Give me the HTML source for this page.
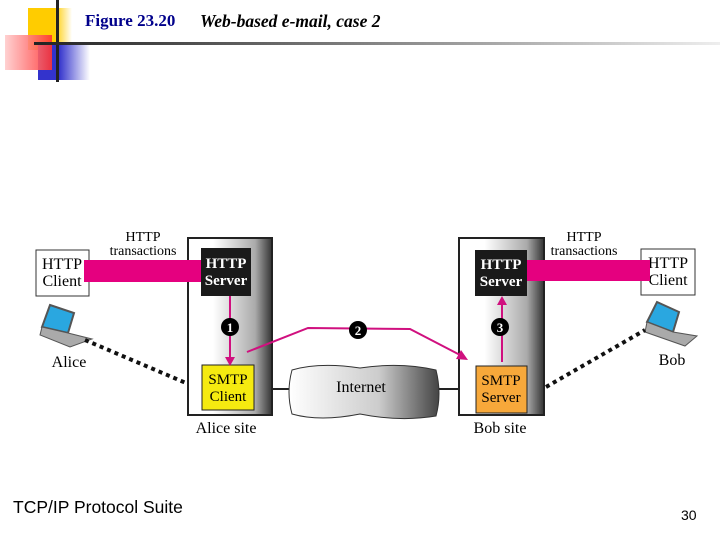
<!DOCTYPE html>
<html><head><meta charset="utf-8"><style>
body{margin:0;width:720px;height:540px;background:#fff;overflow:hidden;position:relative;font-family:"Liberation Serif",serif}
.a{position:absolute}
</style></head><body>
<div class="a" style="left:28px;top:8px;width:44px;height:42px;background:linear-gradient(90deg,#fc0 60%,#fff)"></div>
<div class="a" style="left:38px;top:45px;width:52px;height:35px;background:linear-gradient(90deg,#33c 40%,#fff)"></div>
<div class="a" style="left:5px;top:35px;width:47px;height:35px;background:linear-gradient(90deg,#fcc,#f33);opacity:.9"></div>
<div class="a" style="left:56px;top:0;width:3px;height:82px;background:#222"></div>
<div class="a" style="left:34px;top:42px;width:686px;height:3px;background:linear-gradient(90deg,#222,#999 60%,#eee)"></div>
<div class="a" style="left:85px;top:11px;font-size:17px;font-weight:bold;color:#00008b">Figure 23.20</div>
<div class="a" style="left:200px;top:11px;font-size:17.5px;font-weight:bold;font-style:italic">Web-based e-mail, case 2</div>
<div class="a" style="left:13px;top:497px;font-family:'Liberation Sans',sans-serif;font-size:17.5px">TCP/IP Protocol Suite</div>
<div class="a" style="left:681px;top:507px;font-family:'Liberation Sans',sans-serif;font-size:14px">30</div>
<svg class="a" style="left:0;top:0" width="720" height="540" font-family="Liberation Serif">
<defs>
<linearGradient id="g" x1="0" x2="1"><stop offset="0.3" stop-color="#fff"/><stop offset="0.8" stop-color="#aaa"/><stop offset="1" stop-color="#333"/></linearGradient>
<linearGradient id="c" x1="0" x2="1"><stop offset="0" stop-color="#fff"/><stop offset="0.6" stop-color="#ccc"/><stop offset="1" stop-color="#444"/></linearGradient>
</defs>
<rect x="188" y="238" width="84" height="177" fill="url(#g)" stroke="#222" stroke-width="2"/>
<rect x="201" y="248" width="50" height="48" fill="#1a1a1a"/>
<text x="226" y="268" font-size="15" font-weight="bold" fill="#fff" text-anchor="middle">HTTP</text>
<text x="226" y="285" font-size="15" font-weight="bold" fill="#fff" text-anchor="middle">Server</text>
<rect x="202" y="365" width="52" height="45" fill="#f5ea10" stroke="#222"/>
<text x="228" y="384" font-size="15" text-anchor="middle">SMTP</text>
<text x="228" y="401" font-size="15" text-anchor="middle">Client</text>
<rect x="36" y="250" width="53" height="46" fill="#fff" stroke="#333"/>
<text x="62" y="269" font-size="16" text-anchor="middle">HTTP</text>
<text x="62" y="286" font-size="16" text-anchor="middle">Client</text>
<rect x="84" y="260" width="117" height="22" fill="#e5007f"/>
<text x="143" y="241" font-size="14" text-anchor="middle">HTTP</text>
<text x="143" y="255" font-size="14" text-anchor="middle">transactions</text>
<text x="226" y="433" font-size="16" text-anchor="middle">Alice site</text>
<line x1="230" y1="296" x2="230" y2="358" stroke="#d0107f" stroke-width="2"/>
<polygon points="225,357 235,357 230,366" fill="#d0107f"/>
<circle cx="230" cy="327" r="9" fill="#000"/><text x="230" y="332" font-size="13" font-weight="bold" fill="#fff" text-anchor="middle">1</text>
<g transform="translate(40,305)"><polygon points="10,0 34,8 28,28 2,22" fill="#2aa7e0" stroke="#555" stroke-width="2"/><polygon points="2,22 28,28 52,34 30,42 0,30" fill="#aaa" stroke="#555"/></g>
<text x="69" y="367" font-size="16" text-anchor="middle">Alice</text>
<line x1="85" y1="340" x2="186" y2="383" stroke="#111" stroke-width="4" stroke-dasharray="4,4"/>
<line x1="272" y1="389" x2="460" y2="389" stroke="#222" stroke-width="2"/>
<path d="M292,370 Q320,362 360,368 Q400,362 436,370 Q442,394 436,416 Q400,422 360,414 Q320,422 292,414 Q286,392 292,370Z" fill="url(#c)" stroke="#333"/>
<text x="361" y="392" font-size="16" text-anchor="middle">Internet</text>
<rect x="459" y="238" width="85" height="177" fill="url(#g)" stroke="#222" stroke-width="2"/>
<polyline points="247,352 308,328 410,329 462,356" fill="none" stroke="#d0107f" stroke-width="2"/>
<polygon points="468,360 456,359 461,350" fill="#d0107f"/>
<circle cx="358" cy="330" r="9" fill="#000"/><text x="358" y="335" font-size="13" font-weight="bold" fill="#fff" text-anchor="middle">2</text>
<rect x="475" y="250" width="52" height="46" fill="#1a1a1a"/>
<text x="501" y="269" font-size="15" font-weight="bold" fill="#fff" text-anchor="middle">HTTP</text>
<text x="501" y="286" font-size="15" font-weight="bold" fill="#fff" text-anchor="middle">Server</text>
<rect x="476" y="366" width="51" height="47" fill="#f7a83a" stroke="#222"/>
<text x="501" y="385" font-size="15" text-anchor="middle">SMTP</text>
<text x="501" y="402" font-size="15" text-anchor="middle">Server</text>
<rect x="641" y="249" width="54" height="46" fill="#fff" stroke="#333"/>
<text x="668" y="268" font-size="16" text-anchor="middle">HTTP</text>
<text x="668" y="285" font-size="16" text-anchor="middle">Client</text>
<rect x="527" y="260" width="123" height="21" fill="#e5007f"/>
<text x="584" y="241" font-size="14" text-anchor="middle">HTTP</text>
<text x="584" y="255" font-size="14" text-anchor="middle">transactions</text>
<text x="500" y="433" font-size="16" text-anchor="middle">Bob site</text>
<line x1="502" y1="362" x2="502" y2="304" stroke="#d0107f" stroke-width="2"/>
<polygon points="497,305 507,305 502,296" fill="#d0107f"/>
<circle cx="500" cy="327" r="9" fill="#000"/><text x="500" y="332" font-size="13" font-weight="bold" fill="#fff" text-anchor="middle">3</text>
<g transform="translate(645,302)"><polygon points="12,0 34,10 28,30 2,20" fill="#2aa7e0" stroke="#555" stroke-width="2"/><polygon points="2,20 28,30 52,34 40,44 0,30" fill="#aaa" stroke="#555"/></g>
<text x="672" y="365" font-size="16" text-anchor="middle">Bob</text>
<line x1="546" y1="387" x2="645" y2="330" stroke="#111" stroke-width="4" stroke-dasharray="4,4"/>
</svg>
</body></html>
